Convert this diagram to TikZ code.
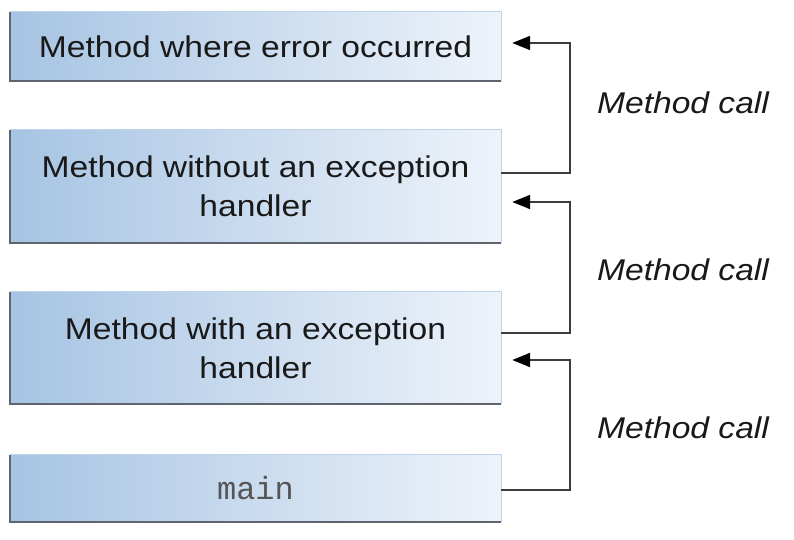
\documentclass[tikz,border=0pt]{standalone}
\usepackage{fontspec}
\setmainfont{Liberation Sans}[FakeStretch=1.12]
\setmonofont{Liberation Mono}
\usetikzlibrary{arrows.meta}
\definecolor{boxL}{RGB}{166,196,227}
\definecolor{boxR}{RGB}{238,243,250}
\definecolor{edgeDark}{RGB}{95,100,110}
\definecolor{edgeLight}{RGB}{190,212,235}
\definecolor{lineCol}{RGB}{60,60,60}
\definecolor{txt}{RGB}{25,25,25}
\begin{document}
\begin{tikzpicture}[x=1pt,y=-1pt,
  mbox/.style={rectangle, left color=boxL, right color=boxR, minimum width=491pt,
    inner sep=0pt, align=center, text=txt, font=\fontsize{30}{39}\selectfont},
  darkedge/.style={draw=edgeDark, line width=1.8pt},
  lightedge/.style={draw=edgeLight, line width=1pt},
  call/.style={draw=lineCol, line width=1.8pt, -{Triangle[length=18pt,width=14pt,color=black,fill=black]}},
  lab/.style={font=\fontsize{30}{35}\selectfont\itshape, text=txt}]
\useasboundingbox (0,0) rectangle (794,540);
\node[mbox, minimum height=69pt] (m1) at (255.5,46.5) {Method where error occurred};
\node[mbox, minimum height=113pt] (m2) at (255.5,186.5) {Method without an exception\\handler};
\node[mbox, minimum height=112pt] (m3) at (255.5,348) {Method with an exception\\handler};
\node[mbox, minimum height=67pt, font=\fontsize{32}{35}\ttfamily, text={rgb,255:red,85;green,85;blue,85}] (m4) at (255.5,488.5) {main};
\foreach \n in {m1,m2,m3,m4}{
  \draw[lightedge] (\n.north west) -- (\n.north east) -- (\n.south east);
  \draw[darkedge] (\n.north west) -- (\n.south west) -- (\n.south east);
}
\draw[call] ([yshift=13.5pt]m2.east) -- ++(69,0) |- ([xshift=11pt,yshift=3.5pt]m1.east);
\draw[call] ([yshift=15pt]m3.east) -- ++(69,0) |- ([xshift=11pt,yshift=-15.5pt]m2.east);
\draw[call] ([yshift=-1.5pt]m4.east) -- ++(69,0) |- ([xshift=11pt,yshift=-12pt]m3.east);
\node[lab] (l1) at (683,103) {Method call};
\node[lab] (l2) at (683,270) {Method call};
\node[lab] (l3) at (683,428) {Method call};
\end{tikzpicture}
\end{document}
